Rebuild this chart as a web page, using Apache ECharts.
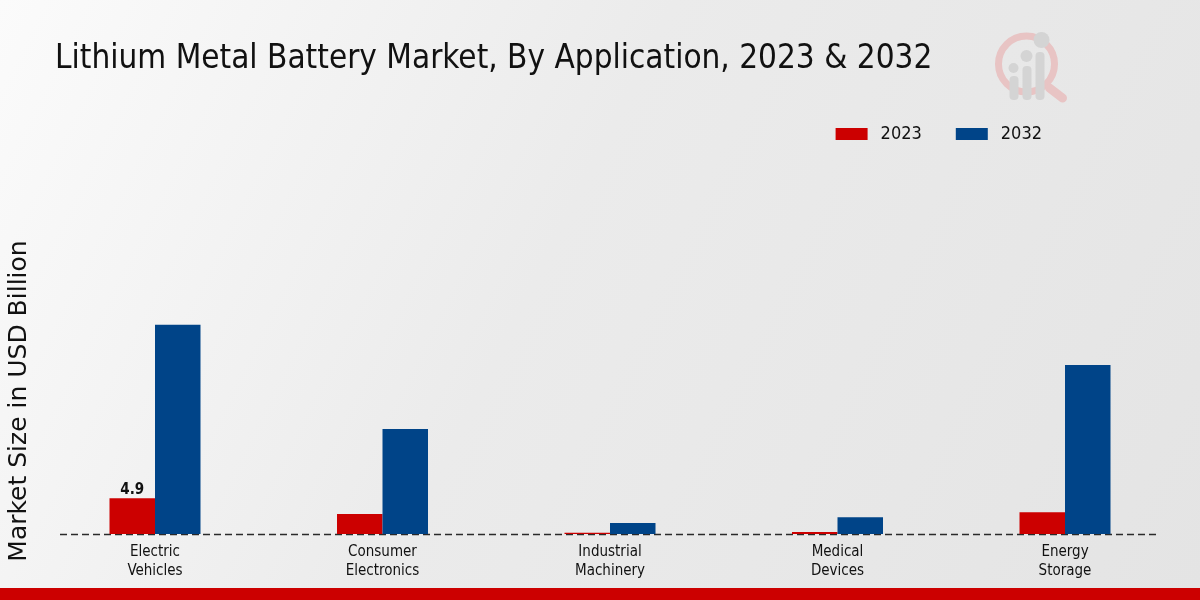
<!DOCTYPE html>
<html><head><meta charset="utf-8">
<script src="https://cdn.jsdelivr.net/npm/echarts@6/dist/echarts.min.js"></script>
<style>html,body{margin:0;padding:0;}#c{width:1200px;height:600px;}</style>
</head><body><div id="c"></div>
<script>
const categories = ['Electric\nVehicles','Consumer\nElectronics','Industrial\nMachinery','Medical\nDevices','Energy\nStorage'];
const values2023 = [4.9, 2.75, 0.18, 0.27, 3.0];
const values2032 = [28.7, 14.4, 1.5, 2.3, 23.2];
const seriesNames = ['2023','2032'];

const chart = echarts.init(document.getElementById('c'));
const condensed = '"DejaVu Sans Condensed","DejaVu Sans",sans-serif';
chart.setOption({
  backgroundColor: {type:'linear',x:0,y:0,x2:1,y2:1,colorStops:[{offset:0,color:'#fbfbfb'},{offset:0.45,color:'#ebebeb'},{offset:1,color:'#e4e4e4'}]},
  animation:false,
  title:{text:'Lithium Metal Battery Market, By Application, 2023 & 2032',left:55,top:43,padding:0,
    textStyle:{fontFamily:condensed,fontSize:33,fontWeight:'normal',color:'#111'}},
  legend:{data:seriesNames,right:153,top:120,itemWidth:32,itemHeight:12,itemGap:34,icon:'rect',
    textStyle:{fontFamily:condensed,fontSize:18,color:'#111',padding:[0,0,0,8]}},
  grid:{left:41.25,right:21.25,top:268,bottom:66,outerBoundsMode:'none',containLabel:false},
  xAxis:{type:'category',data:categories,
    axisLine:{show:false},
    axisTick:{alignWithLabel:true,length:5,lineStyle:{color:'#333'}},
    axisLabel:{fontFamily:condensed,fontSize:15,color:'#111',lineHeight:19,margin:9}},
  yAxis:{type:'value',min:0,max:36.5,show:true,
    axisLine:{show:false},axisTick:{show:false},axisLabel:{show:false},splitLine:{show:false},
    name:'Market Size in USD Billion',nameLocation:'middle',nameGap:9,
    nameTextStyle:{fontFamily:'"DejaVu Sans",sans-serif',fontSize:25,color:'#111'}},
  series:[
    {name:'2023',type:'bar',data:values2023,barWidth:'20%',barGap:'0%',
     itemStyle:{color:'#cc0000'},
     label:{show:true,position:'top',distance:1,fontFamily:condensed,fontWeight:'bold',fontSize:15,color:'#111',
       formatter:p=>p.dataIndex===0?p.value:''}},
    {name:'2032',type:'bar',data:values2032,barWidth:'20%',barGap:'0%',
     itemStyle:{color:'#004488'}}
  ]
});
const y0 = Math.round(chart.convertToPixel({yAxisIndex:0}, 0)) + 0.5;
chart.setOption({
  graphic:[
    {type:'line',z:1,shape:{x1:60,y1:y0,x2:1160,y2:y0},style:{stroke:'#2a2a2a',lineWidth:1.3,lineDash:[7,4]}},
    {type:'rect',left:0,top:588,shape:{width:1200,height:12},style:{fill:'#cc0000'}},
    {type:'group',left:995,top:32,silent:true,children:[
      {type:'circle',shape:{cx:32,cy:36,r:28},style:{fill:'none',stroke:'#e8c4c4',lineWidth:7}},
      {type:'line',shape:{x1:55,y1:60,x2:68,y2:70},style:{stroke:'#e8c4c4',lineWidth:9,lineCap:'round'}},
      {type:'rect',shape:{x:15,y:48,width:9,height:24,r:4},style:{fill:'#d4d4d4'}},
      {type:'rect',shape:{x:28,y:38,width:9,height:34,r:4},style:{fill:'#d4d4d4'}},
      {type:'rect',shape:{x:41,y:24,width:9,height:48,r:4},style:{fill:'#d4d4d4'}},
      {type:'circle',shape:{cx:19,cy:40,r:5},style:{fill:'#d4d4d4'}},
      {type:'circle',shape:{cx:32,cy:28,r:6},style:{fill:'#d4d4d4'}},
      {type:'circle',shape:{cx:47,cy:12,r:8},style:{fill:'#d4d4d4'}}
    ]}
  ]
});
</script></body></html>
